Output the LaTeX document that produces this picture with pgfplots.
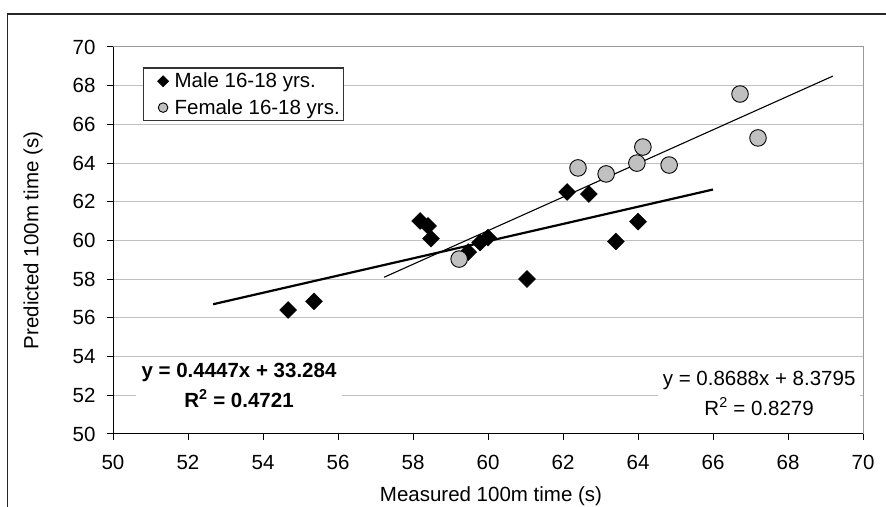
\documentclass[border=0pt]{standalone}
\usepackage{fontspec}
\setmainfont{Liberation Sans}
\usepackage{pgfplots}
\pgfplotsset{compat=1.18}
\usepackage{pgfplotstable}

\definecolor{gridgray}{HTML}{C0C0C0}
\definecolor{femfill}{HTML}{C0C0C0}
\newcommand\chartfont{\fontsize{20.5bp}{24bp}\selectfont}
\newcommand\eqfont{\fontsize{20.5bp}{30bp}\selectfont}

% male 16-18 yrs: measured vs predicted 100m time
\pgfplotstableread{
x y
54.67 56.41
55.36 56.85
58.19 61.01
58.40 60.75
58.48 60.10
59.47 59.40
59.79 59.90
60.00 60.15
61.04 58.01
63.41 59.95
62.11 62.51
62.69 62.40
64.00 60.97
}\male

% female 16-18 yrs
\pgfplotstableread{
x y
59.23 59.04
62.40 63.75
63.15 63.44
63.97 64.00
64.13 64.83
64.83 63.90
66.72 67.57
67.20 65.30
}\female

\begin{document}
\begin{tikzpicture}[x=1bp,y=1bp]
\useasboundingbox (0,0) rectangle (886,507);
\draw[line width=1.8bp, black!85] (7.5,-2) -- (7.5,493) -- (890,493);
\begin{axis}[
  scale only axis,
  width=750bp, height=387bp,
  at={(113bp,73bp)}, anchor=south west,
  xmin=50, xmax=70, ymin=50, ymax=70,
  xtick distance=2, ytick distance=2,
  axis lines=left,
  axis line style={-, black, line width=1bp},
  ymajorgrids,
  grid style={gridgray, line width=1bp},
  tick align=outside,
  major tick length=6bp,
  tick style={black, line width=1bp},
  font=\chartfont,
  /pgf/number format/assume math mode=true,
  ticklabel style={font=\chartfont},
  yticklabel style={xshift=-8bp},
  xticklabel style={yshift=-12bp},
  xlabel={Measured 100m time (s)},
  ylabel={Predicted 100m time (s)},
  xlabel style={at={(axis description cs:0.504,-0.16)}, anchor=center},
  ylabel style={at={(axis description cs:-0.1067,0.5)}, anchor=center, rotate=0},
  legend style={at={(axis description cs:0.040,0.947)}, anchor=north west,
    draw=black!80, line width=1.2bp, font=\chartfont, cells={anchor=west},
    inner xsep=2bp, inner ysep=3bp, row sep=6bp},
  legend image code/.code={\path[draw=none] (0,0) -- (27bp,0); \draw[#1] plot coordinates {(17.5bp,0bp)};},
  clip=false,
]
\draw[gray!80, line width=1bp] (rel axis cs:0,1) -- (rel axis cs:1,1) -- (rel axis cs:1,0);

\addplot[only marks, mark=square*, mark size=6bp, mark options={rotate=45, fill=black, draw=black},
  legend image post style={mark size=3.6bp}] table {\male};
\addlegendentry{Male 16-18 yrs.}
\addplot[only marks, mark=*, mark size=8.3bp, mark options={fill=femfill, draw=black, line width=0.9bp},
  legend image post style={mark size=4.8bp}] table {\female};
\addlegendentry{Female 16-18 yrs.}

% linear trendlines, forecast 2 both ways
\addplot[black, line width=2.2bp, forget plot] coordinates {(52.67,56.706) (66.0,62.634)};
\addplot[black, line width=1.1bp, forget plot] coordinates {(57.23,58.101) (69.2,68.500)};

\node[fill=white, align=center, inner xsep=6bp, inner ysep=5bp, font=\eqfont\bfseries]
  at (axis cs:53.36,52.53) {y = 0.4447x + 33.284\\R\textsuperscript{2} = 0.4721};
\node[fill=white, align=center, inner xsep=5bp, inner ysep=5bp, font=\eqfont]
  at (axis cs:67.23,52.12) {y = 0.8688x + 8.3795\\R\textsuperscript{2} = 0.8279};
\end{axis}
\end{tikzpicture}
\end{document}
